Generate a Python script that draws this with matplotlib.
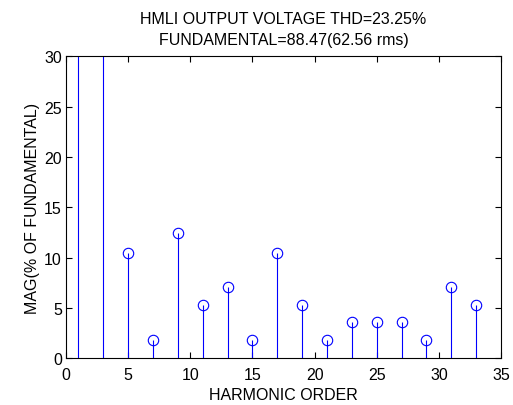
import numpy as np
import matplotlib.pyplot as plt

plt.rcParams["font.family"] = ["Liberation Sans", "DejaVu Sans"]

# harmonic spectrum (% of fundamental), odd harmonics only
harmonics = [1, 3, 5, 7, 9, 11, 13, 15, 17, 19, 21, 23, 25, 27, 29, 31, 33]
mag = [100.0, 33.0, 10.5, 1.85, 12.4, 5.33, 7.05, 1.85, 10.5, 5.33,
       1.85, 3.58, 3.58, 3.58, 1.85, 7.05, 5.33]

title_lines = ["HMLI OUTPUT VOLTAGE THD=23.25%", "FUNDAMENTAL=88.47(62.56 rms)"]

fig = plt.figure(figsize=(5.13, 4.06), dpi=100)
ax = fig.add_axes([0.1287, 0.115, 0.8479, 0.744])

markerline, stemlines, baseline = ax.stem(harmonics, mag, basefmt=" ")
markerline.set_markerfacecolor("none")
markerline.set_markeredgecolor("#0000ff")
markerline.set_markersize(7.5)
markerline.set_markeredgewidth(0.8)
stemlines.set_color("#0000ff")
stemlines.set_linewidth(0.8)

ax.set_xlim(0, 35)
ax.set_ylim(0, 30)
ax.set_xticks(np.arange(0, 36, 5))
ax.set_yticks(np.arange(0, 31, 5))
ax.tick_params(direction="in", top=True, right=True, labelsize=11.5,
               length=4, width=0.8)
ax.tick_params(axis="x", pad=6)
ax.tick_params(axis="y", pad=3)
for s in ax.spines.values():
    s.set_linewidth(0.8)

ax.set_xlabel("HARMONIC ORDER", fontsize=11.5, labelpad=4)
ax.set_ylabel("MAG(% OF FUNDAMENTAL)", fontsize=11.5, labelpad=3)
ax.set_title("\n".join(title_lines), fontsize=11.5, pad=9, linespacing=1.45)

fig.savefig("out.png", dpi=100)
